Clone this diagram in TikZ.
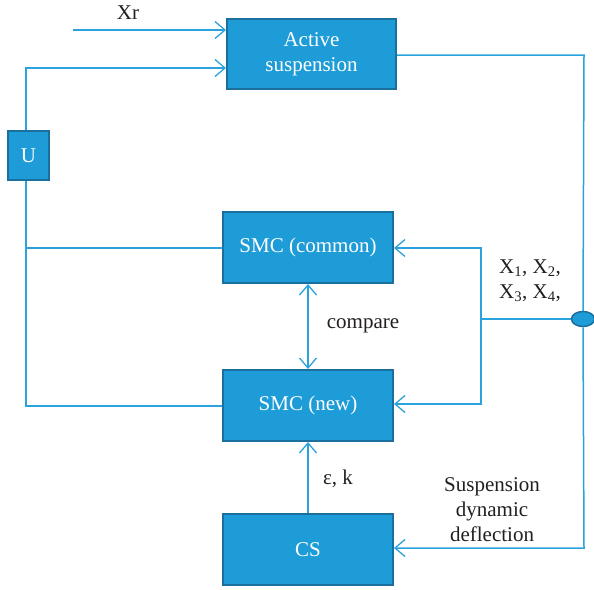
\documentclass[tikz,border=0pt]{standalone}
\usepackage{fontspec}
\setmainfont{Liberation Serif}
\usetikzlibrary{arrows.meta,shapes.geometric}
\definecolor{boxfill}{HTML}{1E9CD7}
\definecolor{boxline}{HTML}{1B6F9C}
\definecolor{wire}{HTML}{2AA3DC}
\definecolor{txt}{HTML}{231F20}
\tikzset{
  blk/.style={draw=boxline, line width=2pt, fill=boxfill, text=white, align=center, font=\fontsize{21}{25}\selectfont, inner sep=0pt},
  wireline/.style={draw=wire, line width=1.5pt},
  arr/.style={wireline, -{Straight Barb[length=10pt,width=17pt,line width=1.3pt]}},
  darr/.style={wireline, {Straight Barb[length=10pt,width=17pt,line width=1.3pt]}-{Straight Barb[length=10pt,width=17pt,line width=1.3pt]}},
  lbl/.style={text=txt, font=\fontsize{21}{25}\selectfont, align=center, inner sep=0pt}
}
\begin{document}
\begin{tikzpicture}[x=1pt,y=-1pt]
\useasboundingbox (0,0) rectangle (594,589);
\node[blk, minimum width=169pt, minimum height=70pt] (act) at (311.5,54) {Active\\suspension};
\node[blk, minimum width=41pt, minimum height=49pt] (u) at (28.5,155.5) {U};
\node[blk, minimum width=170pt, minimum height=71pt] (smcc) at (308,247.5) {SMC (common)};
\node[blk, minimum width=170pt, minimum height=71pt] (smcn) at (308,405.5) {SMC (new)};
\node[blk, minimum width=170pt, minimum height=71pt] (cs) at (308,549.5) {CS};
\node[ellipse, draw=boxline, line width=1.5pt, fill=boxfill, minimum width=23pt, minimum height=15pt, inner sep=0pt] (dot) at (583,319) {};
% Xr input
\coordinate (xr) at (73,30);
\draw[arr] (xr) -- (act.west |- xr);
\node[lbl] (xrl) at (128,13) {Xr};
% U to active suspension
\coordinate (ut) at (26,68);
\draw[arr] (u.north -| ut) -- (ut) -- (act.west |- ut);
% U down to SMCs
\coordinate (ub) at (26,406);
\draw[wireline] (u.south -| ub) -- (ub) -- (smcn.west |- ub);
\draw[wireline] (26,248) -- (smcc.west |- 0,248);
% Active suspension output around right
\coordinate (rt) at (584,55);
\coordinate (rb) at (584,548);
\draw[wireline] (act.east |- rt) -- (rt) -- (dot.north);
\draw[arr] (dot.south) -- (rb) -- (cs.east |- rb);
% state bus
\coordinate (bt) at (481,248);
\coordinate (bb) at (481,404);
\coordinate (bm) at (481,319);
\draw[wireline] (dot.west) -- (bm);
\draw[arr] (bm) -- (bt) -- (smcc.east |- bt);
\draw[arr] (bm) -- (bb) -- (smcn.east |- bb);
% compare
\draw[darr] (smcc.south) -- (smcn.north);
\node[lbl] (cmp) at (363,326) {compare};
% CS to SMC new
\draw[arr] (cs.north) -- (smcn.south);
\node[lbl] (ek) at (338,479) {ε, k};
\node[lbl] (xs) at (530,281) {X\textsubscript{1}, X\textsubscript{2},\\X\textsubscript{3}, X\textsubscript{4},};
\node[lbl] (sdd) at (492,510) {Suspension\\dynamic\\deflection};
\end{tikzpicture}
\end{document}
